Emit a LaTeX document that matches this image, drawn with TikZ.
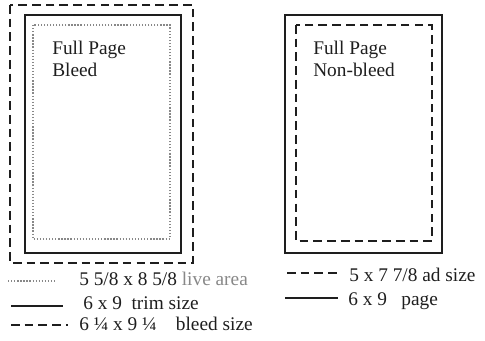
\documentclass[tikz,border=0pt]{standalone}
\usepackage{fontspec}
\setmainfont{Liberation Serif}
\definecolor{ink}{HTML}{1E1E1E}
\definecolor{livegray}{HTML}{888888}
\tikzset{
  bleedline/.style={draw=ink, line width=1.8pt, dash pattern=on 6.5pt off 3.8pt},
  trimline/.style={draw=ink, line width=1.25pt},
  liveline/.style={draw=livegray, line width=1.2pt, dash pattern=on 1pt off 1.3pt},
  adline/.style={draw=ink, line width=1.6pt, dash pattern=on 6.5pt off 3.8pt},
  lbl/.style={anchor=base west, inner sep=0pt, text=ink, font=\fontsize{14.5}{16}\selectfont},
}
\begin{document}
\begin{tikzpicture}[x=0.75pt, y=-0.75pt]
\useasboundingbox (0,0) rectangle (485,341);
% left: full page bleed
\coordinate (b1) at (10,5); \coordinate (b2) at (193,263);
\coordinate (t1) at (25,15); \coordinate (t2) at (181,253);
\coordinate (l1) at (33,25); \coordinate (l2) at (170,239);
\draw[bleedline] (b1) rectangle (b2);
\draw[trimline] (t1) rectangle (t2);
\draw[liveline] (l1) rectangle (l2);
\node[lbl] (fpb1) at (52,55) {Full Page};
\node[lbl] (fpb2) at (52,77) {Bleed};
% right: full page non-bleed
\coordinate (p1) at (285,15); \coordinate (p2) at (442,253);
\coordinate (a1) at (296,25); \coordinate (a2) at (432,241);
\draw[trimline] (p1) rectangle (p2);
\draw[adline] (a1) rectangle (a2);
\node[lbl] (fpn1) at (313,55) {Full Page};
\node[lbl] (fpn2) at (313,77) {Non-bleed};
% left legend
\coordinate (k1a) at (8,281); \coordinate (k1b) at (55,281);
\coordinate (k2a) at (11,306); \coordinate (k2b) at (63,306);
\coordinate (k3a) at (11,325); \coordinate (k3b) at (68,325);
\draw[liveline] (k1a) -- (k1b);
\draw[trimline, line width=1pt] (k2a) -- (k2b);
\draw[adline, line width=1.3pt] (k3a) -- (k3b);
\node[lbl] (t1l) at (79,286) {5 5/8 x 8 5/8 \textcolor{livegray}{live area}};
\node[lbl] (t2l) at (83,310) {6 x 9\ \ trim size};
\node[lbl] (t3l) at (79,331) {6 ¼ x 9 ¼\ \ \ \ bleed size};
% right legend
\coordinate (r1a) at (287,273); \coordinate (r1b) at (340,273);
\coordinate (r2a) at (285,298); \coordinate (r2b) at (338,298);
\draw[adline, line width=1.3pt] (r1a) -- (r1b);
\draw[trimline, line width=1pt] (r2a) -- (r2b);
\node[lbl] (t1r) at (349,282) {5 x 7 7/8 ad size};
\node[lbl] (t2r) at (348,306) {6 x 9\ \ \ page};
\end{tikzpicture}
\end{document}
